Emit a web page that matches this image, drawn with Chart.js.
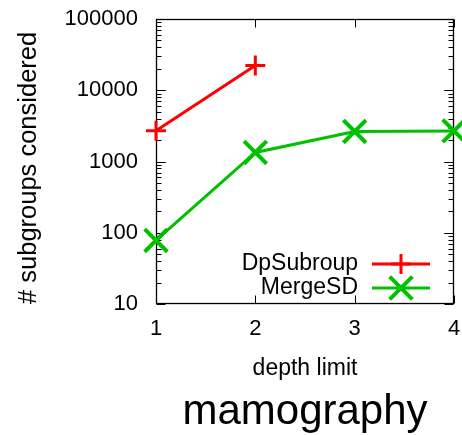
<!DOCTYPE html>
<html>
<head>
<meta charset="utf-8">
<script src="https://cdn.jsdelivr.net/npm/chart.js@4/dist/chart.umd.min.js"></script>
<style>
  html, body { margin: 0; padding: 0; background: #fff; }
</style>
</head>
<body>
<canvas id="chart" width="462" height="435"></canvas>
<script>
// data
const depthLimits = [1, 2, 3, 4];
const dpSubroup = [2700, 22300];
const mergeSD = [78, 1340, 2640, 2690];
const yTicks = [10, 100, 1000, 10000, 100000];

const FONT = "'Liberation Sans', Arial, sans-serif";

// box around the plot with inward ticks on all four sides (gnuplot look)
function drawFrame(chart) {
  const { ctx, chartArea: a, scales } = chart;
  const L = Math.round(a.left) + 0.5, R = Math.round(a.right) - 0.5;
  const T = Math.round(a.top) + 0.5, B = Math.round(a.bottom) - 0.5;
  ctx.save();
  ctx.strokeStyle = "#000";
  ctx.lineWidth = 1.3;
  ctx.strokeRect(L, T, R - L, B - T);
  ctx.lineWidth = 1;
  ctx.beginPath();
  depthLimits.forEach((v) => {
    const x = Math.round(scales.x.getPixelForValue(v)) + 0.5;
    ctx.moveTo(x, B); ctx.lineTo(x, B - 8);
    ctx.moveTo(x, T); ctx.lineTo(x, T + 8);
  });
  for (let d = 10; d < 100000; d *= 10) {
    for (let k = 1; k <= 10; k++) {
      const y = Math.round(scales.y.getPixelForValue(d * k)) + 0.5;
      const len = (k === 1 || k === 10) ? 9 : 5;
      ctx.moveTo(L, y); ctx.lineTo(L + len, y);
      ctx.moveTo(R, y); ctx.lineTo(R - len, y);
    }
  }
  ctx.stroke();
  ctx.restore();
}

const framePlugin = {
  id: "frame",
  beforeDatasetsDraw(chart) {
    drawFrame(chart);
  },
  afterDraw(chart) {
    // legend in the lower right corner of the plot
    const { ctx } = chart;
    const rows = [264, 288];
    ctx.save();
    ctx.font = "23px " + FONT;
    ctx.textAlign = "right";
    ctx.textBaseline = "middle";
    chart.data.datasets.forEach((ds, i) => {
      const y = rows[i];
      ctx.fillStyle = "#000";
      ctx.fillText(ds.label, 358, y);
      ctx.strokeStyle = ds.borderColor;
      ctx.fillStyle = ds.borderColor;
      ctx.lineWidth = ds.borderWidth;
      ctx.beginPath();
      ctx.moveTo(372, y); ctx.lineTo(430, y);
      ctx.stroke();
      ctx.lineWidth = ds.pointBorderWidth;
      Chart.helpers.drawPoint(ctx, {
        pointStyle: ds.pointStyle,
        radius: ds.pointRadius,
        borderWidth: ds.pointBorderWidth,
        rotation: 0
      }, 401, y);
    });
    ctx.restore();
  }
};

new Chart(document.getElementById("chart"), {
  type: "line",
  data: {
    datasets: [
      {
        label: "DpSubroup",
        data: dpSubroup.map((v, i) => ({ x: depthLimits[i], y: v })),
        borderColor: "#ff0000",
        backgroundColor: "#ff0000",
        borderWidth: 3,
        pointStyle: "cross",
        pointRadius: 10,
        pointBorderWidth: 3,
        clip: false
      },
      {
        label: "MergeSD",
        data: mergeSD.map((v, i) => ({ x: depthLimits[i], y: v })),
        borderColor: "#00c000",
        backgroundColor: "#00c000",
        borderWidth: 3,
        pointStyle: "crossRot",
        pointRadius: 16,
        pointBorderWidth: 4,
        clip: false
      }
    ]
  },
  options: {
    responsive: false,
    animation: false,
    layout: { autoPadding: false, padding: { top: 19, right: 8, left: 0, bottom: 0 } },
    plugins: {
      legend: { display: false },
      tooltip: { enabled: false },
      title: {
        display: true,
        position: "bottom",
        fullSize: false,
        text: "mamography",
        color: "#000",
        font: { family: FONT, size: 42, weight: "normal", lineHeight: 1 },
        padding: { top: 0, bottom: 2 }
      }
    },
    scales: {
      x: {
        type: "linear",
        min: 1,
        max: 4,
        afterBuildTicks: (s) => { s.ticks = depthLimits.map((v) => ({ value: v })); },
        afterFit: (s) => { s.height = 87; s.paddingLeft = 0; s.paddingRight = 0; },
        grid: { display: false },
        border: { display: false },
        ticks: {
          color: "#000",
          padding: 4,
          font: { family: FONT, size: 22 },
          maxRotation: 0
        },
        title: {
          display: true,
          text: "depth limit",
          color: "#000",
          font: { family: FONT, size: 23 },
          padding: { top: 0, bottom: 9 }
        }
      },
      y: {
        type: "logarithmic",
        min: 10,
        max: 100000,
        afterBuildTicks: (s) => { s.ticks = yTicks.map((v) => ({ value: v })); },
        afterFit: (s) => { s.width = 156; s.paddingTop = 0; s.paddingBottom = 0; },
        grid: { display: false },
        border: { display: false },
        ticks: {
          color: "#000",
          padding: 10,
          font: { family: FONT, size: 22 },
          callback: (v) => String(v)
        },
        title: {
          display: true,
          align: "start",
          text: "# subgroups considered",
          color: "#000",
          font: { family: FONT, size: 25.5 },
          padding: { top: 14, bottom: 0 }
        }
      }
    }
  },
  plugins: [framePlugin]
});
</script>
</body>
</html>
